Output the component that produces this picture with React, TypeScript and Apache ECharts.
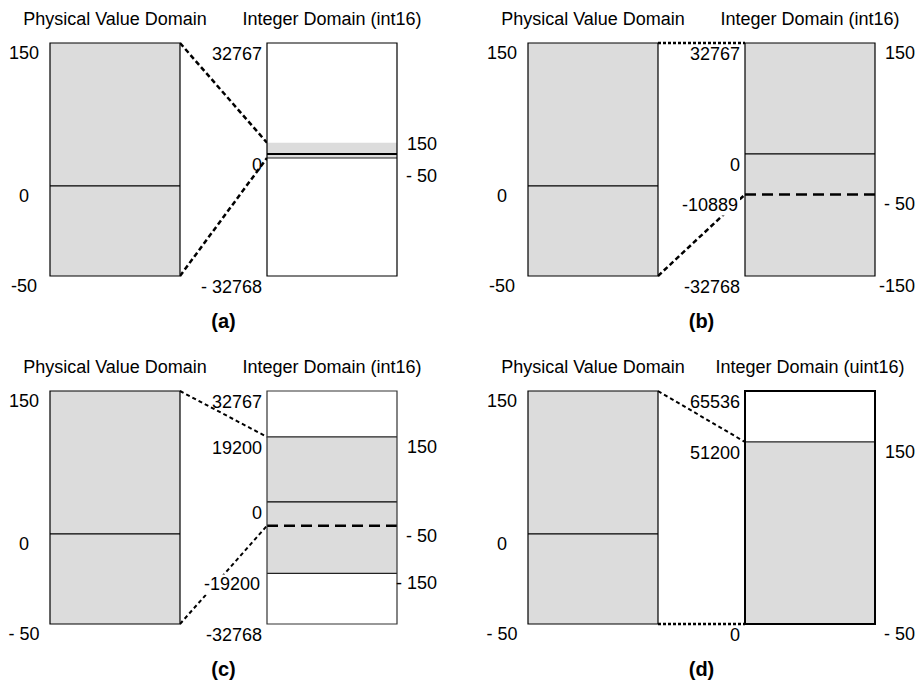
import { useEffect, useRef } from "react";
import * as echarts from "echarts";

// ---------------- data ----------------
const panelNames = ["(a)", "(b)", "(c)", "(d)"];
const physicalTitle = "Physical Value Domain";
const integerTitles = [
  "Integer Domain (int16)",
  "Integer Domain (int16)",
  "Integer Domain (int16)",
  "Integer Domain (uint16)",
];
const physicalRange = [-50, 150];
const physicalTicks = [150, 0, -50];
const physicalTickLabels = [
  ["150", "0", "-50"],
  ["150", "0", "-50"],
  ["150", "0", "- 50"],
  ["150", "0", "- 50"],
];
const integerMin = [-32768, -32768, -32768, 0];
const integerMax = [32767, 32767, 32767, 65536];
const integerTicks = [
  [32767, 0, -32768],
  [32767, 0, -10889, -32768],
  [32767, 19200, 0, -19200, -32768],
  [65536, 51200, 0],
];
const integerTickLabels = [
  ["32767", "0", "- 32768"],
  ["32767", "0", "-10889", "-32768"],
  ["32767", "19200", "0", "-19200", "-32768"],
  ["65536", "51200", "0"],
];
// integer range reserved for the physical scale (shaded)
const bandLow = [-50, -32768, -19200, 0];
const bandHigh = [150, 32767, 19200, 51200];
// integer values where physical 150 and -50 land
const physMaxToInt = [150, 32767, 19200, 51200];
const physMinToInt = [-50, -10889, -6400, 0];
// physical values written right of the integer box, at these integer levels
const rightTicks = [
  [150, -50],
  [32767, -10889, -32768],
  [19200, -6400, -19200],
  [51200, 0],
];
const rightTickLabels = [
  ["150", "- 50"],
  ["150", "- 50", "-150"],
  ["150", "- 50", "- 150"],
  ["150", "- 50"],
];
const zeroLevel: (number | null)[] = [0, 0, 0, null];
const dashedLevel: (number | null)[] = [null, -10889, -6400, null];
const bandEdges = [[-50], [], [19200, -19200], [51200]];

// ---------------- layout / style ----------------
const W = 923;
const H = 681;
const PANEL_X = [50, 528, 50, 528];
const PANEL_Y = [43, 43, 391, 391];
const BOX_W = 130;
const BOX_H = 233;
const INT_DX = 217;
// schematic (not-to-scale) drawing: where zero sits inside each box, and zoom of the tiny band in (a)
const ZERO_FRAC_PHYS = 0.613;
const ZERO_FRAC_INT = 0.476;
const MAGNIFY = [22, 1, 1, 1];
const RIGHT_LABEL_MIN_GAP = 32;
const FONT = "'Liberation Sans', Arial, Helvetica, sans-serif";
const GRAY = "#dcdcdc";

type Coord = (pt: number[]) => number[];

function displayY(
  coord: Coord,
  v: number,
  min: number,
  max: number,
  zeroFrac: number,
  mag: number,
  bandLo: number,
  bandHi: number
) {
  const lin = coord([0, v])[1];
  if (!(min < 0 && max > 0)) return lin;
  const top = coord([0, max])[1];
  const bot = coord([0, min])[1];
  const zLin = coord([0, 0])[1];
  const zDisp = top + zeroFrac * (bot - top);
  let y =
    v >= 0
      ? top + ((lin - top) / (zLin - top)) * (zDisp - top)
      : zDisp + ((lin - zLin) / (bot - zLin)) * (bot - zDisp);
  if (mag !== 1 && v >= bandLo && v <= bandHi) y = zDisp + (y - zDisp) * mag;
  return y;
}

const physY = (coord: Coord, v: number) =>
  displayY(coord, v, physicalRange[0], physicalRange[1], ZERO_FRAC_PHYS, 1, 0, 0);
const intY = (coord: Coord, p: number, v: number) =>
  displayY(coord, v, integerMin[p], integerMax[p], ZERO_FRAC_INT, MAGNIFY[p], bandLow[p], bandHigh[p]);

function txt(x: number, y: number, text: string, align: string, extra: any = {}) {
  return {
    type: "text",
    x,
    y,
    style: {
      text,
      fill: "#000",
      fontSize: 18,
      fontFamily: FONT,
      align,
      textAlign: align,
      verticalAlign: "middle",
      textVerticalAlign: "middle",
      ...extra,
    },
  };
}

function physRender(p: number) {
  return (_params: any, api: any) => {
    const coord = (pt: number[]) => api.coord(pt);
    const x0 = api.coord([0, 0])[0];
    const x1 = api.coord([1, 0])[0];
    const y0 = physY(coord, physicalRange[1]);
    const y1 = physY(coord, physicalRange[0]);
    const yz = physY(coord, 0);
    const children: any[] = [
      {
        type: "rect",
        shape: { x: x0, y: y0, width: x1 - x0, height: y1 - y0 },
        style: { fill: GRAY, stroke: "#000", lineWidth: 1.2 },
      },
      {
        type: "line",
        shape: { x1: x0, y1: yz, x2: x1, y2: yz },
        style: { stroke: "#000", lineWidth: 1.2 },
      },
    ];
    physicalTicks.forEach((v, i) => {
      children.push(txt(x0 - 26, physY(coord, v) + 10, physicalTickLabels[p][i], "center"));
    });
    return { type: "group", children };
  };
}

function intRender(p: number) {
  return (_params: any, api: any) => {
    const coord = (pt: number[]) => api.coord(pt);
    const yOf = (v: number) => intY(coord, p, v);
    const x0 = api.coord([0, 0])[0];
    const x1 = api.coord([1, 0])[0];
    const yt = yOf(integerMax[p]);
    const yb = yOf(integerMin[p]);
    const bt = yOf(bandHigh[p]);
    const bb = yOf(bandLow[p]);
    const children: any[] = [
      { type: "rect", shape: { x: x0, y: yt, width: x1 - x0, height: yb - yt }, style: { fill: "#fff" } },
      { type: "rect", shape: { x: x0, y: bt, width: x1 - x0, height: bb - bt }, style: { fill: GRAY } },
    ];
    bandEdges[p].forEach((v) => {
      const y = yOf(v);
      children.push({ type: "line", shape: { x1: x0, y1: y, x2: x1, y2: y }, style: { stroke: "#222", lineWidth: 1.2 } });
    });
    const zl = zeroLevel[p];
    if (zl !== null) {
      const y = yOf(zl);
      children.push({
        type: "line",
        shape: { x1: x0, y1: y, x2: x1, y2: y },
        style: { stroke: "#000", lineWidth: p === 0 ? 2 : 1.2 },
      });
    }
    const dl = dashedLevel[p];
    if (dl !== null) {
      const y = yOf(dl);
      children.push({
        type: "line",
        shape: { x1: x0, y1: y, x2: x1, y2: y },
        style: { stroke: "#000", lineWidth: 2.5, lineDash: [11, 6] },
      });
    }
    children.push({
      type: "rect",
      shape: { x: x0, y: yt, width: x1 - x0, height: yb - yt },
      style: {
        fill: "none",
        stroke: p === 2 ? "#333" : "#000",
        lineWidth: p === 3 ? 2 : 1.2,
      },
    });
    integerTicks[p].forEach((v, i) => {
      const bg = v < 0 && v > integerMin[p];
      children.push(
        txt(
          x0 - 5,
          yOf(v) + 11,
          integerTickLabels[p][i],
          "right",
          bg ? { backgroundColor: "#fff", textBackgroundColor: "#fff", padding: [1, 2] } : {}
        )
      );
    });
    // right-hand labels; spread apart symmetrically when they are too close
    const ys = rightTicks[p].map((v) => yOf(v) + 10);
    for (let i = 1; i < ys.length; i++) {
      const gap = ys[i] - ys[i - 1];
      if (gap < RIGHT_LABEL_MIN_GAP) {
        const push = (RIGHT_LABEL_MIN_GAP - gap) / 2;
        ys[i - 1] -= push;
        ys[i] += push;
      }
    }
    ys.forEach((y, i) => children.push(txt(x1 + 40, y, rightTickLabels[p][i], "right")));
    return { type: "group", children };
  };
}

export default function App() {
  const ref = useRef<HTMLDivElement>(null);

  useEffect(() => {
    const chart = echarts.init(ref.current!, null, { renderer: "svg" });
    const grid: any[] = [];
    const xAxis: any[] = [];
    const yAxis: any[] = [];
    const series: any[] = [];
    for (let p = 0; p < 4; p++) {
      for (let k = 0; k < 2; k++) {
        const g = 2 * p + k;
        grid.push({
          left: PANEL_X[p] + k * INT_DX,
          top: PANEL_Y[p],
          width: BOX_W,
          height: BOX_H,
          containLabel: false,
          show: false,
        });
        xAxis.push({ type: "value", gridIndex: g, min: 0, max: 1, show: false });
        yAxis.push({
          type: "value",
          gridIndex: g,
          min: k === 0 ? physicalRange[0] : integerMin[p],
          max: k === 0 ? physicalRange[1] : integerMax[p],
          show: false,
        });
        series.push({
          type: "custom",
          xAxisIndex: g,
          yAxisIndex: g,
          data: [[0.5, 0]],
          silent: true,
          clip: false,
          renderItem: k === 0 ? physRender(p) : intRender(p),
        });
      }
    }
    chart.setOption({ animation: false, grid, xAxis, yAxis, series });

    const graphic: any[] = [];
    for (let p = 0; p < 4; p++) {
      const phys: Coord = (pt) => chart.convertToPixel({ gridIndex: 2 * p } as any, pt) as unknown as number[];
      const intg: Coord = (pt) => chart.convertToPixel({ gridIndex: 2 * p + 1 } as any, pt) as unknown as number[];
      const pLeftX = phys([0, 0])[0];
      const pRightX = phys([1, 0])[0];
      const pTopY = physY(phys, physicalRange[1]);
      const pBotY = physY(phys, physicalRange[0]);
      const iLeft = intg([0, 0])[0];
      const iRight = intg([1, 0])[0];
      const iTop = intY(intg, p, integerMax[p]);
      const endTop = intY(intg, p, physMaxToInt[p]);
      const endBot = intY(intg, p, physMinToInt[p]);
      const heavy = p < 2;
      const flatTop = Math.abs(endTop - pTopY) < 1;
      const flatBot = Math.abs(endBot - pBotY) < 1;
      graphic.push({
        type: "line",
        z: 1,
        shape: { x1: pRightX, y1: pTopY, x2: iLeft, y2: endTop },
        style: {
          stroke: "#000",
          lineWidth: heavy || flatTop ? 2.5 : 2,
          lineDash: flatTop ? [3, 2] : heavy ? [5, 3] : [4, 3],
        },
      });
      graphic.push({
        type: "line",
        z: 1,
        shape: { x1: pRightX, y1: pBotY, x2: iLeft, y2: endBot },
        style: {
          stroke: "#000",
          lineWidth: heavy || flatBot ? 2.5 : 2,
          lineDash: flatBot ? [3, 2] : heavy ? [5, 3] : [4, 3],
        },
      });
      graphic.push({ ...txt((pLeftX + pRightX) / 2, pTopY - 24, physicalTitle, "center"), z: 5 });
      graphic.push({ ...txt((iLeft + iRight) / 2, iTop - 24, integerTitles[p], "center"), z: 5 });
      graphic.push({
        ...txt((pRightX + iLeft) / 2, pBotY + 45, panelNames[p], "center", { fontSize: 20, fontWeight: "bold" }),
        z: 5,
      });
    }
    chart.setOption({ graphic });

    return () => chart.dispose();
  }, []);

  return <div ref={ref} style={{ position: "absolute", left: 0, top: 0, width: W, height: H }} />;
}
